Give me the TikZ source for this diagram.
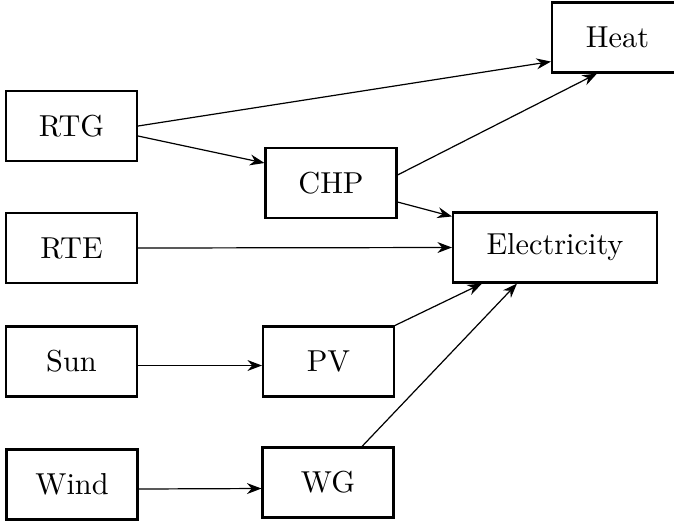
\documentclass[tikz,border=0pt]{standalone}
\usetikzlibrary{arrows.meta,calc}
\begin{document}
\begin{tikzpicture}[x=0.33pt,y=-0.33pt,
  box/.style={draw,line width=0.7pt,minimum width=43.2pt,minimum height=23.1pt,inner sep=0pt,font=\fontsize{10}{12}\selectfont},
  flow/.style={-{Stealth},line width=0.4pt}]
\useasboundingbox (0,0) rectangle (674,522);
% sources
\node[box] (RTG)  at (71.5,126)   {RTG};
\node[box] (RTE)  at (71.5,248)   {RTE};
\node[box] (Sun)  at (71.5,361.5) {Sun};
\node[box] (Wind) at (72,484.5)   {Wind};
% converters
\node[box] (CHP) at (331,183)     {CHP};
\node[box] (PV)  at (328.5,361.5) {PV};
\node[box] (WG)  at (328,482.5)   {WG};
% demands
\node[box] (Heat) at (617.5,37.5) {Heat};
\node[box,minimum width=67.3pt] (Elec) at (555,247.5) {Electricity};
% flows
\draw[flow] (RTG.east) -- ($(Heat.south west)+(0,-12)$);
\draw[flow] ($(RTG.east)+(0,10)$) -- ($(CHP.west)+(0,-20)$);
\draw[flow] ($(CHP.east)+(0,-8)$) -- ($(Heat.south west)+(46,0)$);
\draw[flow] ($(CHP.east)+(0,19)$) -- ($(Elec.north west)+(0,5)$);
\draw[flow] (RTE.east) -- (Elec.west);
\draw[flow] (PV.north east) -- ($(Elec.south west)+(30,0)$);
\draw[flow] ($(WG.north)+(34,0)$) -- ($(Elec.south west)+(65,0)$);
\draw[flow] ($(Sun.east)+(0,4)$) -- ($(PV.west)+(0,4)$);
\draw[flow] ($(Wind.east)+(0,4.5)$) -- ($(WG.west)+(0,6)$);
\end{tikzpicture}
\end{document}
